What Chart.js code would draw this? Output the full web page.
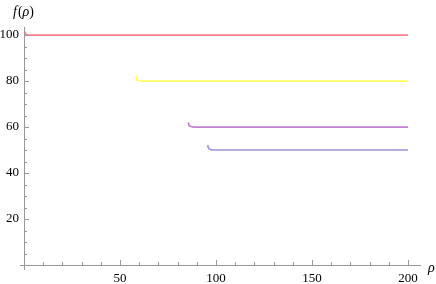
<!DOCTYPE html>
<html>
<head>
<meta charset="utf-8">
<script src="https://cdn.jsdelivr.net/npm/chart.js@4"></script>
<style>
html,body{margin:0;padding:0;background:#fff;}
#wrap{width:436px;height:284px;position:relative;}
</style>
</head>
<body>
<div id="wrap"><canvas id="c"></canvas></div>
<script>
// Data
const redX = [0.5, 0.9, 1.6, 3, 200];
const redY = [101.4, 100.5, 100.15, 100, 100];
const yellowX = [58.3, 58.6, 59.3, 60.5, 62, 200];
const yellowY = [82.3, 80.9, 80.3, 80.1, 80, 80];
const purpleX = [85.6, 85.9, 86.6, 87.8, 89.5, 200];
const purpleY = [62.0, 60.8, 60.3, 60.1, 60, 60];
const blueX = [95.7, 96.0, 96.7, 97.9, 99.5, 200];
const blueY = [52.2, 51.0, 50.4, 50.1, 50, 50];
const xTickLabels = [50, 100, 150, 200];
const yTickLabels = [20, 40, 60, 80, 100];
const xMinor = [10,20,30,40,60,70,80,90,110,120,130,140,160,170,180,190];
const yMinor = [5,10,15,25,30,35,45,50,55,65,70,75,85,90,95];

const pts = (xs, ys) => xs.map((x, i) => ({x: x, y: ys[i]}));
const AXIS = '#999999';
const FONT = "Liberation Serif";

const axesPlugin = {
  id: 'mmaAxes',
  afterDraw(chart) {
    const ctx = chart.ctx;
    const xs = chart.scales.x, ys = chart.scales.y;
    const x0 = xs.getPixelForValue(0), y0 = ys.getPixelForValue(0);
    ctx.save();
    ctx.strokeStyle = AXIS;
    ctx.lineWidth = 1;
    ctx.beginPath();
    ctx.moveTo(x0 - 4, y0 + 0.5); ctx.lineTo(x0, y0 + 0.5);
    ctx.moveTo(x0 + 0.5, y0); ctx.lineTo(x0 + 0.5, y0 + 5);
    xTickLabels.forEach(v => { const p = Math.round(xs.getPixelForValue(v)) + 0.5; ctx.moveTo(p, y0); ctx.lineTo(p, y0 - 5); });
    xMinor.forEach(v => { const p = Math.round(xs.getPixelForValue(v)) + 0.5; ctx.moveTo(p, y0); ctx.lineTo(p, y0 - 3); });
    yTickLabels.forEach(v => { const p = Math.round(ys.getPixelForValue(v)) + 0.5; ctx.moveTo(x0, p); ctx.lineTo(x0 + 5, p); });
    yMinor.forEach(v => { const p = Math.round(ys.getPixelForValue(v)) + 0.5; ctx.moveTo(x0, p); ctx.lineTo(x0 + 3, p); });
    ctx.stroke();
    ctx.fillStyle = '#000';
    ctx.textBaseline = 'middle';
    ctx.textAlign = 'left';
    ctx.font = 'italic 14px ' + FONT;
    ctx.fillText('ρ', xs.right + 8, y0 + 3);
    let tx = 13, ty = 12;
    const parts = [['f', 'italic'], ['(', 'normal'], ['ρ', 'italic'], [')', 'normal']];
    parts.forEach(([t, st]) => {
      ctx.font = st + ' 14px ' + FONT;
      ctx.fillText(t, tx, ty);
      tx += ctx.measureText(t).width + (t === 'f' ? 1 : 0);
    });
    ctx.restore();
  }
};

new Chart(document.getElementById('c'), {
  type: 'scatter',
  data: {
    datasets: [
      {data: pts(redX, redY), borderColor: '#ff7f8c'},
      {data: pts(yellowX, yellowY), borderColor: '#ffff66'},
      {data: pts(purpleX, purpleY), borderColor: '#c47fd0'},
      {data: pts(blueX, blueY), borderColor: '#9c93d8'}
    ].map(d => Object.assign(d, {showLine: true, pointRadius: 0, borderWidth: 1.7, cubicInterpolationMode: 'monotone', fill: false}))
  },
  options: {
    responsive: true,
    maintainAspectRatio: false,
    animation: false,
    events: [],
    layout: {padding: {left: 0, right: 16, top: 27, bottom: 0}},
    plugins: {legend: {display: false}, tooltip: {enabled: false}},
    scales: {
      x: {
        type: 'linear', min: 0, max: 206.25,
        afterFit(s) { s.height = 19; },
        afterBuildTicks(s) { s.ticks = xTickLabels.map(v => ({value: v})); },
        grid: {display: false, drawTicks: false},
        border: {display: true, color: AXIS, width: 1},
        ticks: {padding: 6, color: '#000', font: {family: FONT, size: 13}, maxRotation: 0}
      },
      y: {
        type: 'linear', min: 0, max: 103.5,
        afterFit(s) { s.width = 24; },
        afterBuildTicks(s) { s.ticks = yTickLabels.map(v => ({value: v})); },
        grid: {display: false, drawTicks: false},
        border: {display: true, color: AXIS, width: 1},
        ticks: {padding: 5, color: '#000', font: {family: FONT, size: 13}}
      }
    }
  },
  plugins: [axesPlugin]
});
</script>
</body>
</html>
